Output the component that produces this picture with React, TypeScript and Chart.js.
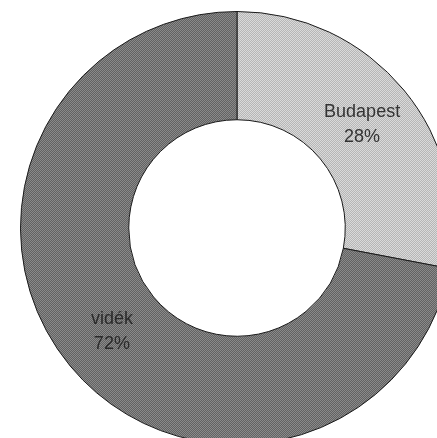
import React, { useEffect, useRef } from "react";
import { Chart, registerables } from "chart.js";

Chart.register(...registerables);

const categories = ["Budapest", "vidék"];
const values = [28, 72];
const valueLabels = ["28%", "72%"];

function makePattern(a: string, b: string): CanvasPattern | string {
  const c = document.createElement("canvas");
  c.width = 2;
  c.height = 2;
  const ctx = c.getContext("2d");
  if (!ctx) return a;
  ctx.fillStyle = a;
  ctx.fillRect(0, 0, 2, 2);
  ctx.fillStyle = b;
  ctx.fillRect(0, 0, 1, 1);
  ctx.fillRect(1, 1, 1, 1);
  const p = ctx.createPattern(c, "repeat");
  return p || a;
}

const labelPlugin = {
  id: "sliceLabels",
  afterDatasetsDraw(chart: any) {
    const ctx = chart.ctx;
    const meta = chart.getDatasetMeta(0);
    const colors = ["#333333", "#2a2a2a"];
    meta.data.forEach((arc: any, i: number) => {
      const { x, y, startAngle, endAngle, innerRadius, outerRadius } = arc.getProps(
        ["x", "y", "startAngle", "endAngle", "innerRadius", "outerRadius"],
        true
      );
      const mid = (startAngle + endAngle) / 2;
      const r = (innerRadius + outerRadius) / 2;
      const lx = x + Math.cos(mid) * r;
      const ly = y + Math.sin(mid) * r;
      ctx.save();
      ctx.fillStyle = colors[i];
      ctx.font = "18px 'Liberation Sans', Arial, sans-serif";
      ctx.textAlign = "center";
      ctx.textBaseline = "middle";
      ctx.fillText(categories[i], lx, ly - 12);
      ctx.fillText(valueLabels[i], lx, ly + 13);
      ctx.restore();
    });
  },
};

export default function App() {
  const ref = useRef<HTMLCanvasElement | null>(null);
  useEffect(() => {
    document.body.style.margin = "0";
    if (!ref.current) return;
    const light = makePattern("#dadada", "#b6b6b6");
    const dark = makePattern("#8a8a8a", "#626262");
    const chart = new Chart(ref.current, {
      type: "doughnut",
      data: {
        labels: categories,
        datasets: [
          {
            data: values,
            backgroundColor: [light as any, dark as any],
            borderColor: "#1a1a1a",
            borderWidth: 1,
          },
        ],
      },
      options: {
        responsive: false,
        animation: false,
        cutout: "50%",
        layout: { padding: 4 },
        plugins: {
          legend: { display: false },
          tooltip: { enabled: false },
        },
      },
      plugins: [labelPlugin],
    });
    return () => chart.destroy();
  }, []);
  return (
    <div
      style={{
        position: "fixed",
        left: 0,
        top: 0,
        width: 437,
        height: 438,
        overflow: "hidden",
        background: "#ffffff",
      }}
    >
      <canvas
        ref={ref}
        width={442}
        height={442}
        style={{ position: "absolute", left: 16, top: 7, width: 442, height: 442 }}
      />
    </div>
  );
}
